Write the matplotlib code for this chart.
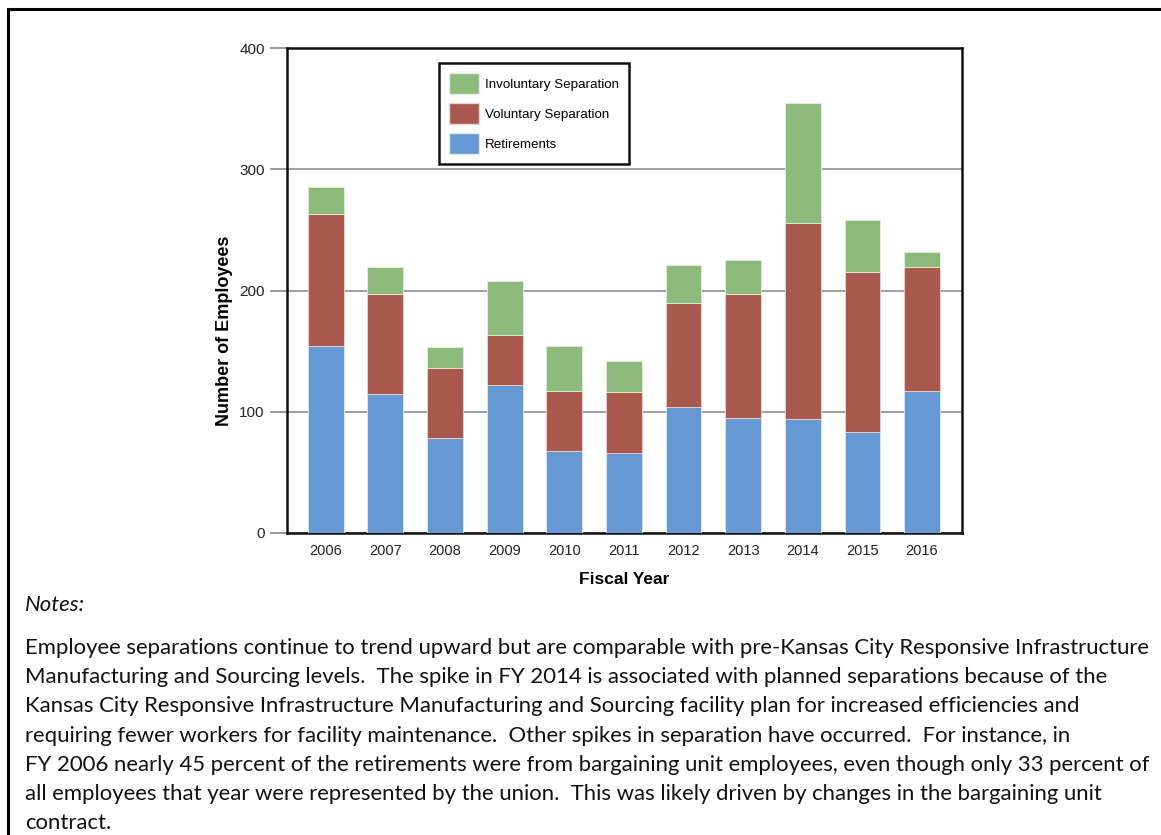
import matplotlib.pyplot as plt
from matplotlib.patches import Patch
from matplotlib.lines import Line2D

# Employee separations by fiscal year
years = ['2006', '2007', '2008', '2009', '2010', '2011', '2012', '2013', '2014', '2015', '2016']
retirements = [154, 115, 78, 122, 68, 66, 104, 95, 94, 83, 117]
voluntary = [109, 82, 58, 41, 49, 50, 86, 102, 162, 132, 102]
involuntary = [22, 22, 17, 45, 37, 26, 31, 28, 99, 43, 13]

notes_text = ("Employee separations continue to trend upward but are comparable with pre-Kansas City Responsive Infrastructure\n"
              "Manufacturing and Sourcing levels.  The spike in FY 2014 is associated with planned separations because of the\n"
              "Kansas City Responsive Infrastructure Manufacturing and Sourcing facility plan for increased efficiencies and\n"
              "requiring fewer workers for facility maintenance.  Other spikes in separation have occurred.  For instance, in\n"
              "FY 2006 nearly 45 percent of the retirements were from bargaining unit employees, even though only 33 percent of\n"
              "all employees that year were represented by the union.  This was likely driven by changes in the bargaining unit\n"
              "contract.")

c_ret = '#6699d3'
c_vol = '#a8584c'
c_inv = '#8cba7b'

plt.rcParams['font.family'] = ['Liberation Sans', 'DejaVu Sans']

fig = plt.figure(figsize=(11.61, 8.35), dpi=100)
ax = fig.add_axes([287 / 1161, 1 - 533 / 835, 675 / 1161, 485 / 835])

x = list(range(len(years)))
bottom2 = [r + v for r, v in zip(retirements, voluntary)]
ax.bar(x, retirements, width=0.6, color=c_ret, edgecolor='#dde8f5', linewidth=0.6, zorder=3)
ax.bar(x, voluntary, width=0.6, bottom=retirements, color=c_vol, edgecolor='#ecd6d2', linewidth=0.6, zorder=3)
ax.bar(x, involuntary, width=0.6, bottom=bottom2, color=c_inv, edgecolor='#e3efdd', linewidth=0.6, zorder=3)

ax.set_xlim(-0.65, 10.67)
ax.set_ylim(0, 400)
ax.set_yticks([0, 100, 200, 300, 400])
ax.set_xticks(x)
ax.set_xticklabels(years)
ax.tick_params(axis='x', length=0, pad=8, labelsize=10.5, labelcolor='#222222')
ax.tick_params(axis='y', length=12, width=1.2, color='#888888', pad=4, labelsize=11, labelcolor='#222222')
ax.yaxis.grid(True, color='#999999', linewidth=1.3, zorder=0)
for s in ax.spines.values():
    s.set_linewidth(1.8)
    s.set_color('#111111')

ax.set_xlabel('Fiscal Year', fontsize=12.5, fontweight='bold', labelpad=10)
ax.set_ylabel('Number of Employees', fontsize=13, fontweight='bold')
# the label sits below the axes centre in the original
ax.yaxis.set_label_coords(-0.08, 0.416)

handles = [Patch(facecolor=c_inv, edgecolor='#e3efdd'),
           Patch(facecolor=c_vol, edgecolor='#ecd6d2'),
           Patch(facecolor=c_ret, edgecolor='#dde8f5')]
leg = ax.legend(handles, ['Involuntary Separation', 'Voluntary Separation', 'Retirements'],
                loc='upper left', bbox_to_anchor=(152 / 675, 1 - 15 / 485), fontsize=9.6,
                frameon=True, fancybox=False, edgecolor='#111111', framealpha=1,
                handlelength=2.25, handleheight=2.1, labelspacing=0.63, borderpad=0.75,
                handletextpad=0.45, borderaxespad=0)
leg.get_frame().set_linewidth(1.8)

# outer box (left and top edges only, as in the cropped original)
fig.add_artist(Line2D([8 / 1161, 8 / 1161], [0, 1 - 9 / 835], color='black', linewidth=2.2))
fig.add_artist(Line2D([8 / 1161, 1], [1 - 9 / 835, 1 - 9 / 835], color='black', linewidth=2.2))

fig.text(25 / 1161, 1 - 605 / 835, 'Notes:', fontsize=15.9, style='italic', family='Lato',
         va='center', ha='left', color='#111111')
fig.text(25 / 1161, 1 - 638 / 835, notes_text, fontsize=15.9, family='Lato',
         va='top', ha='left', color='#111111', linespacing=1.575)

fig.savefig('out.png', dpi=100)
